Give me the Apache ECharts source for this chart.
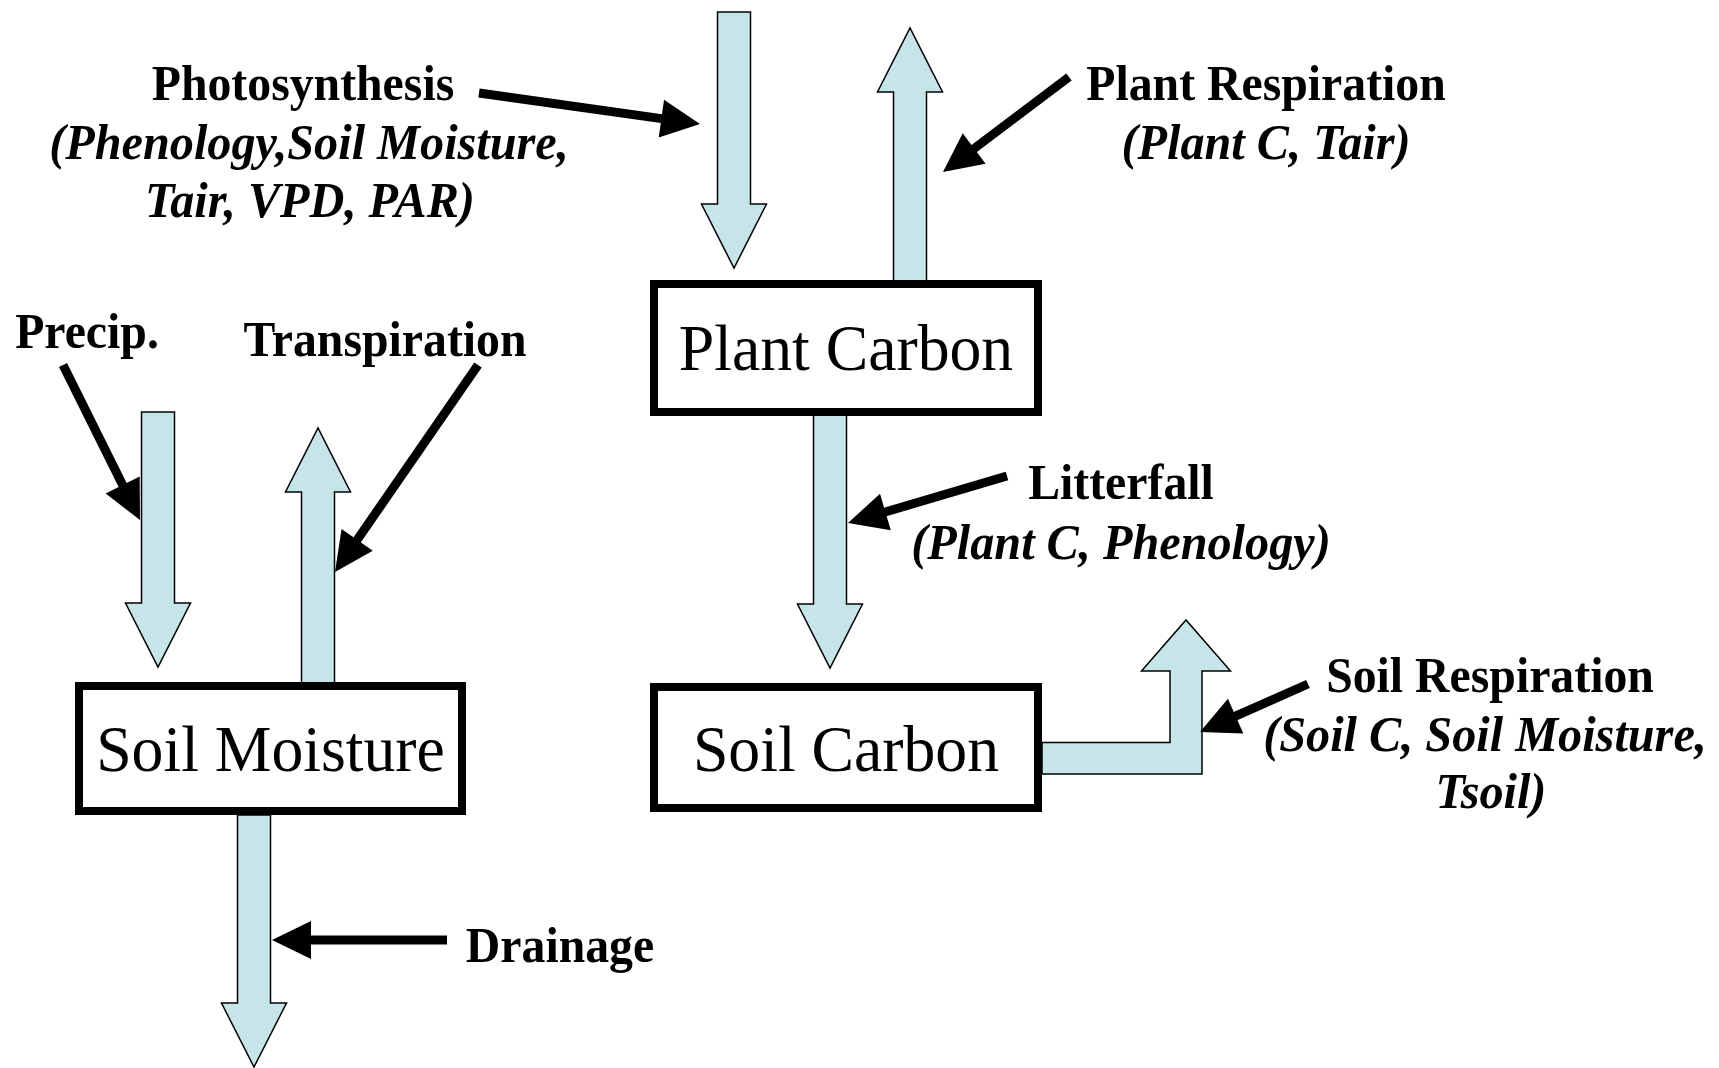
<!DOCTYPE html>
<html>
<head>
<meta charset="utf-8">
<script src="https://cdn.jsdelivr.net/npm/echarts@6/dist/echarts.min.js"></script>
<style>
  html, body { margin: 0; padding: 0; background: #fff; }
  #chart { width: 1719px; height: 1068px; }
</style>
</head>
<body>
<div id="chart"></div>
<script>
// diagram units: x 0..1719 left->right, y 0..1068 top->bottom

// pools (boxes)
const boxNames = ['Plant Carbon', 'Soil Moisture', 'Soil Carbon']
const boxLeft = [654, 79, 654]
const boxRight = [1038, 462, 1038]
const boxTop = [284, 686, 687]
const boxBottom = [412, 811, 808]
const boxLabelY = [353, 754, 754]

// straight flux arrows: centre x, tail y, tip y
const fluxNames = ['Photosynthesis', 'Plant Respiration', 'Litterfall', 'Precip.', 'Transpiration', 'Drainage']
const fluxX = [734, 910, 830, 158, 318, 254]
const fluxTail = [12, 283, 413, 412, 683, 815]
const fluxTip = [268, 28, 668, 667, 428, 1067]

// bent soil respiration arrow (tail -> corner -> tip)
const soilRespPath = [[1042, 758], [1186, 758], [1186, 620]]

// black pointers from label to flux
const pointerStart = [[479, 93], [1069, 77], [1007, 476], [63, 365], [478, 365], [1308, 684], [447, 940]]
const pointerEnd = [[700, 124], [943, 172], [848, 523], [140, 520], [335, 572], [1200, 732], [272, 940]]

// flux labels
const fluxLabels = ['Photosynthesis', 'Plant Respiration', 'Litterfall', 'Precip.', 'Transpiration', 'Drainage', 'Soil Respiration']
const fluxLabelX = [303, 1266, 1121, 87, 385, 560, 1490]
const fluxLabelY = [87, 87, 486, 335, 343, 949, 679]

// controlling variables (italic lines)
const driverLines = ['(Phenology,Soil Moisture,', 'Tair, VPD, PAR)', '(Plant C, Tair)', '(Plant C, Phenology)', '(Soil C, Soil Moisture,', 'Tsoil)']
const driverX = [309, 310, 1266, 1121, 1485, 1491]
const driverY = [146, 204, 146, 546, 738, 795]

const FILL = '#c6e5e8'
const FONT = '"Liberation Serif", "Times New Roman", serif'

let chart = echarts.init(document.getElementById('chart'))

function boxItem(params, api) {
  let p0 = api.coord([api.value(0), api.value(2)])
  let p1 = api.coord([api.value(1), api.value(3)])
  return {
    type: 'rect',
    shape: { x: p0[0], y: p0[1], width: p1[0] - p0[0], height: p1[1] - p0[1] },
    style: { fill: '#fff', stroke: '#000', lineWidth: 8 }
  }
}

function fluxItem(params, api) {
  let tail = api.coord([api.value(0), api.value(1)])
  let tip = api.coord([api.value(0), api.value(2)])
  let cx = tail[0]
  let d = tip[1] > tail[1] ? 1 : -1
  let w = 16.5, hw = 32.5, hl = 64
  let base = tip[1] - d * hl
  return {
    type: 'polygon',
    shape: {
      points: [
        [cx - w, tail[1]], [cx - w, base], [cx - hw, base], [cx, tip[1]],
        [cx + hw, base], [cx + w, base], [cx + w, tail[1]]
      ]
    },
    style: { fill: FILL, stroke: '#000', lineWidth: 1.5 }
  }
}

function bentItem(params, api) {
  let a = api.coord(soilRespPath[0])
  let b = api.coord(soilRespPath[1])
  let c = api.coord(soilRespPath[2])
  let w = 16, hw = 44.5, hl = 51
  let base = c[1] + hl
  return {
    type: 'polygon',
    shape: {
      points: [
        [a[0], a[1] - w + 0.5], [b[0] - w, a[1] - w + 0.5], [b[0] - w, base], [b[0] - hw, base],
        [c[0], c[1]], [b[0] + hw, base], [b[0] + w, base], [b[0] + w, a[1] + w], [a[0], a[1] + w]
      ]
    },
    style: { fill: FILL, stroke: '#000', lineWidth: 1.5 }
  }
}

function pointerItem(params, api) {
  let s = api.coord([api.value(0), api.value(1)])
  let e = api.coord([api.value(2), api.value(3)])
  let dx = e[0] - s[0], dy = e[1] - s[1]
  let len = Math.sqrt(dx * dx + dy * dy)
  let ux = dx / len, uy = dy / len
  let hl = 39, hw = 19
  let bx = e[0] - ux * hl, by = e[1] - uy * hl
  return {
    type: 'group',
    children: [
      {
        type: 'line',
        shape: { x1: s[0], y1: s[1], x2: bx + ux * 2, y2: by + uy * 2 },
        style: { stroke: '#000', lineWidth: 9 }
      },
      {
        type: 'polygon',
        shape: { points: [[e[0], e[1]], [bx - uy * hw, by + ux * hw], [bx + uy * hw, by - ux * hw]] },
        style: { fill: '#000' }
      }
    ]
  }
}

// the source lettering is a slightly narrow Times, so squeeze it a little
function textItem(font, squeeze) {
  return function (params, api) {
    let p = api.coord([api.value(0), api.value(1)])
    return {
      type: 'text',
      x: p[0],
      y: p[1],
      scaleX: squeeze,
      style: {
        text: api.value(2),
        font: font,
        fill: '#000',
        align: 'center',
        verticalAlign: 'middle'
      }
    }
  }
}

let option = {
  animation: false,
  backgroundColor: '#fff',
  grid: { left: 0, right: 0, top: 0, bottom: 0 },
  xAxis: { type: 'value', min: 0, max: 1719, show: false },
  yAxis: { type: 'value', min: 0, max: 1068, inverse: true, show: false },
  series: [
    {
      type: 'custom',
      name: 'fluxes',
      renderItem: fluxItem,
      data: fluxNames.map((n, i) => [fluxX[i], fluxTail[i], fluxTip[i], n]),
      z: 1
    },
    {
      type: 'custom',
      name: 'soil respiration',
      renderItem: bentItem,
      data: [[soilRespPath[0][0], soilRespPath[0][1]]],
      z: 1
    },
    {
      type: 'custom',
      name: 'pools',
      renderItem: boxItem,
      data: boxNames.map((n, i) => [boxLeft[i], boxRight[i], boxTop[i], boxBottom[i], n]),
      z: 2
    },
    {
      type: 'custom',
      name: 'pool labels',
      renderItem: textItem('normal 65px ' + FONT, 0.98),
      data: boxNames.map((n, i) => [(boxLeft[i] + boxRight[i]) / 2, boxLabelY[i], n]),
      z: 3
    },
    {
      type: 'custom',
      name: 'pointers',
      renderItem: pointerItem,
      data: pointerStart.map((s, i) => [s[0], s[1], pointerEnd[i][0], pointerEnd[i][1]]),
      z: 3
    },
    {
      type: 'custom',
      name: 'flux labels',
      renderItem: textItem('bold 50px ' + FONT, 0.955),
      data: fluxLabels.map((n, i) => [fluxLabelX[i], fluxLabelY[i], n]),
      z: 3
    },
    {
      type: 'custom',
      name: 'drivers',
      renderItem: textItem('italic bold 50px ' + FONT, 0.965),
      data: driverLines.map((n, i) => [driverX[i], driverY[i], n]),
      z: 3
    }
  ]
}

chart.setOption(option)
</script>
</body>
</html>
